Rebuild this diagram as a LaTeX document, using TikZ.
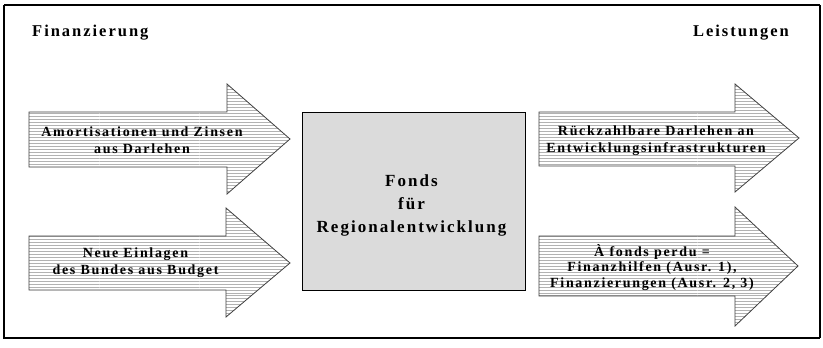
\documentclass[tikz,border=0pt]{standalone}
\usepackage{fontspec}
\setmainfont{Liberation Serif}
\newfontfamily\lsfont[LetterSpace=12]{Liberation Serif}
\usetikzlibrary{patterns}
\begin{document}
\begin{tikzpicture}[x=1bp,y=1bp,
  bigarrow/.style={draw=black!75, line width=0.8bp, pattern=horizontal lines, pattern color=black!30},
  arrowtext/.style={font=\lsfont\bfseries\fontsize{14bp}{17bp}\selectfont, align=center, inner sep=0pt},
  headtext/.style={font=\lsfont\bfseries\fontsize{16.5bp}{18bp}\selectfont, inner sep=0pt},
  fondstext/.style={font=\lsfont\bfseries\fontsize{17bp}{23bp}\selectfont, align=center, inner sep=0pt},
  fondsbox/.style={draw=black, line width=1bp, fill=black!14}]
\useasboundingbox (0,0) rectangle (823,347);
\fill[white] (0,0) rectangle (823,347);
% frame
\draw[line width=2.2bp] (4,342) -- (820,342);
\draw[line width=2.2bp] (4,342) -- (4,9) -- (820,9);
\draw[line width=1.2bp] (820,342) -- (820,9);
% headings
\node[headtext, anchor=west] (fin) at (32,314) {Finanzierung};
\node[headtext, anchor=east] (leis) at (789,314) {Leistungen};
% left arrows
\draw[bigarrow] (29,235) -- (227,235) -- (227,263) -- (290,208) -- (227,153) -- (227,180) -- (29,180) -- cycle;
\draw[bigarrow] (29,111) -- (226,111) -- (226,139) -- (290,84) -- (226,30) -- (226,57) -- (29,57) -- cycle;
% right arrows
\draw[bigarrow] (539,235) -- (735,235) -- (735,263) -- (799,209) -- (735,155) -- (735,181) -- (539,181) -- cycle;
\draw[bigarrow] (539,111) -- (735,111) -- (735,140) -- (798,81) -- (735,21) -- (735,51) -- (539,51) -- cycle;
% central box
\node[fondsbox, minimum width=223bp, minimum height=178bp, inner sep=0pt] (fonds) at (413.5,146) {};
\node[fondstext] (fondst) at (411.5,142) {Fonds\\für\\Regionalentwicklung};
% arrow texts
\node[arrowtext] (amort) at (142,206.5) {Amortisationen und Zinsen\\aus Darlehen};
\node[arrowtext] (neue) at (135.5,84.5) {Neue Einlagen\\des Bundes aus Budget};
\node[arrowtext] (rueck) at (656,206.5) {Rückzahlbare Darlehen an\\Entwicklungsinfrastrukturen};
\node[arrowtext, font=\lsfont\bfseries\fontsize{14bp}{15.5bp}\selectfont] (perdu) at (652,79.5) {À fonds perdu =\\Finanzhilfen (Ausr. 1),\\Finanzierungen (Ausr. 2, 3)};
\end{tikzpicture}
\end{document}
